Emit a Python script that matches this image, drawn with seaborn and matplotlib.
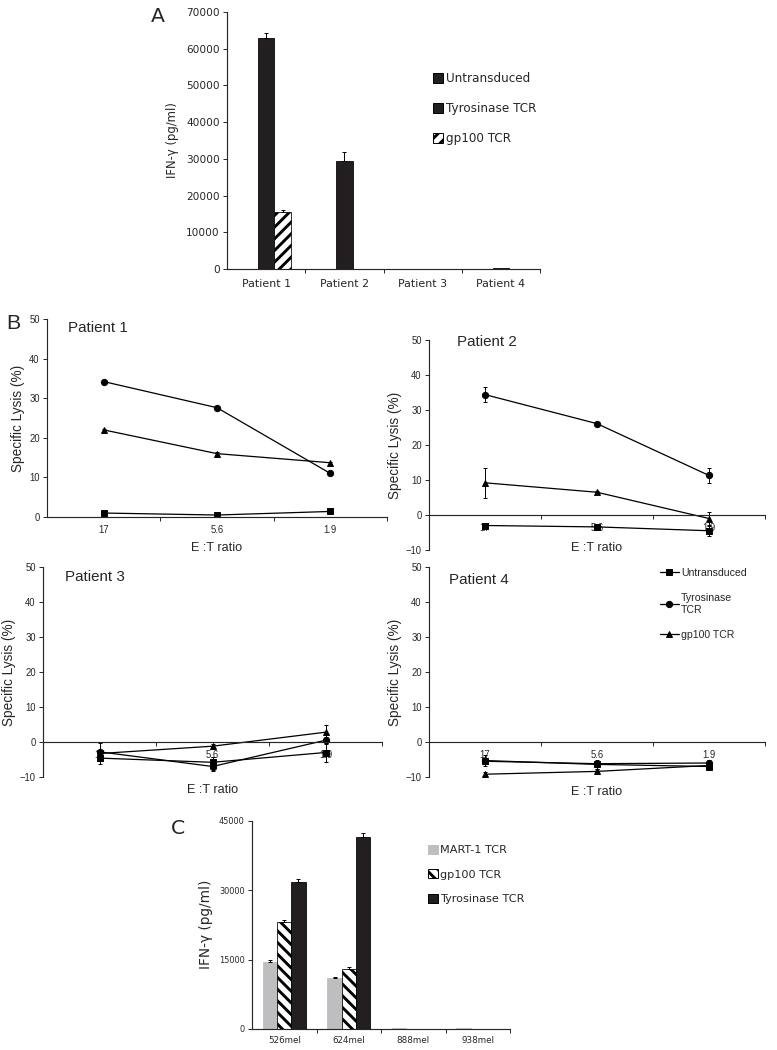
import numpy as np
import pandas as pd
import matplotlib
matplotlib.use('Agg')
import matplotlib.pyplot as plt
import seaborn as sns
from matplotlib.patches import Patch

sns.set_style('ticks')
plt.rcParams['font.family'] = ['DejaVu Sans']
plt.rcParams['hatch.linewidth'] = 3.0
plt.rcParams['axes.linewidth'] = 1.2

W, H, DPI = 777, 1050, 70
BLACK = '#231f20'
GRAY = '#bcbec0'

# ---- panel A data: IFN-gamma per patient ----
patients = ['Patient 1', 'Patient 2', 'Patient 3', 'Patient 4']
groups_a = ['Untransduced', 'Tyrosinase TCR', 'gp100 TCR']
ifn_untrans = [0, 0, 0, 0]
ifn_tyr = [63000, 29500, 100, 250]
ifn_gp100 = [15500, 0, 120, 40]
err_untrans = [0, 0, 0, 0]
err_tyr = [1300, 2300, 0, 0]
err_gp100 = [700, 0, 0, 0]

# ---- panel B data: specific lysis at E:T ratios ----
ratios = ['17', '5.6', '1.9']
groups_b = ['Untransduced', 'Tyrosinase TCR', 'gp100 TCR']
p1_untrans = [1.0, 0.5, 1.4]
p1_tyr = [34.2, 27.6, 11.0]
p1_gp100 = [22.0, 16.0, 13.7]
p1_err = [[0.2, 0.2, 0.3], [0.3, 0.3, 0.3], [0.3, 0.3, 0.3]]
p2_untrans = [-3.0, -3.4, -4.5]
p2_tyr = [34.4, 26.1, 11.3]
p2_gp100 = [9.2, 6.5, -1.0]
p2_err = [[0.5, 0.5, 1.5], [2.2, 0.4, 2.1], [4.2, 0.5, 1.9]]
p3_untrans = [-4.6, -5.8, -3.0]
p3_tyr = [-2.8, -7.0, 0.5]
p3_gp100 = [-3.3, -1.2, 2.8]
p3_err = [[1.7, 1.5, 2.6], [2.5, 1.2, 1.0], [0.5, 0.5, 2.2]]
p4_untrans = [-5.3, -6.4, -7.0]
p4_tyr = [-5.5, -6.2, -6.0]
p4_gp100 = [-9.2, -8.4, -6.7]
p4_err = [[1.5, 1.2, 0.8], [0.5, 0.5, 0.8], [0.5, 0.8, 0.5]]

# ---- panel C data: IFN-gamma per melanoma line ----
cells = ['526mel', '624mel', '888mel', '938mel']
groups_c = ['MART-1 TCR', 'gp100 TCR', 'Tyrosinase TCR']
c_mart1 = [14500, 10900, 150, 120]
c_gp100 = [23200, 13000, 0, 0]
c_tyr = [31800, 41500, 0, 0]
c_err = [[300, 300, 0, 0], [300, 300, 0, 0], [500, 700, 0, 0]]


def rect(x0, y_top, x1, y_bot):
    return [x0 / W, 1 - y_bot / H, (x1 - x0) / W, (y_bot - y_top) / H]


def long_df(cats, groups, series, catcol, valcol):
    return pd.DataFrame({catcol: cats * len(groups),
                         'group': np.repeat(groups, len(cats)),
                         valcol: np.concatenate(series)})


def bar_errors(ax, errs):
    for cont, err in zip(ax.containers, errs):
        for patch, e in zip(cont.patches, err):
            if e > 0:
                x = patch.get_x() + patch.get_width() / 2
                ax.errorbar(x, patch.get_height(), yerr=[[0], [e]], fmt='none',
                            ecolor='black', elinewidth=1, capsize=2.5, capthick=1)


def category_ticks(ax, n, pad, size):
    ax.set_xlim(-0.5, n - 0.5)
    ax.set_xticks(np.arange(n) + 0.5, minor=True)
    ax.tick_params(axis='x', which='major', length=0, pad=pad, labelsize=size)
    ax.tick_params(axis='x', which='minor', length=4, width=1, direction='out')
    ax.tick_params(axis='y', length=4, width=1, direction='out')


fig = plt.figure(figsize=(W / DPI, H / DPI), dpi=DPI)

# ================= Panel A =================
axA = fig.add_axes(rect(227, 12, 540, 269))
dfA = long_df(patients, groups_a, [ifn_untrans, ifn_tyr, ifn_gp100], 'patient', 'ifn')
sns.barplot(data=dfA, x='patient', y='ifn', hue='group', order=patients, hue_order=groups_a,
            palette={'Untransduced': BLACK, 'Tyrosinase TCR': BLACK, 'gp100 TCR': 'white'},
            saturation=1, width=0.64, edgecolor='black', linewidth=0.8,
            errorbar=None, legend=False, ax=axA)
for p in axA.containers[2].patches:
    p.set_hatch('//')
bar_errors(axA, [err_untrans, err_tyr, err_gp100])
axA.set_ylim(0, 70000)
axA.set_yticks(np.arange(0, 70001, 10000))
category_ticks(axA, 4, 10, 11.3)
axA.tick_params(axis='y', labelsize=10.8)
axA.set_xlabel('')
axA.set_ylabel('IFN-γ (pg/ml)', fontsize=12, labelpad=7)
sns.despine(ax=axA)
fig.legend(handles=[Patch(facecolor=BLACK, edgecolor='black'),
                    Patch(facecolor=BLACK, edgecolor='black'),
                    Patch(facecolor='white', edgecolor='black', hatch='//')],
           labels=groups_a, loc='upper left', bbox_to_anchor=(433 / W, 1 - 72 / H),
           frameon=False, fontsize=12.3, handlelength=0.85, handleheight=0.85,
           handletextpad=0.2, labelspacing=1.42, borderpad=0, borderaxespad=0)
fig.text(158 / W, 1 - 16 / H, 'A', fontsize=21, ha='center', va='center')

# ================= Panel B =================
pal_b = {g: 'black' for g in groups_b}
b_panels = [
    ('Patient 1', rect(47, 319, 387, 517), 0, [p1_untrans, p1_tyr, p1_gp100], p1_err, (68, 328), -0.125),
    ('Patient 2', rect(429, 340, 765, 550), -10, [p2_untrans, p2_tyr, p2_gp100], p2_err, (457, 342), 0.04),
    ('Patient 3', rect(43, 567, 382, 777), -10, [p3_untrans, p3_tyr, p3_gp100], p3_err, (65, 577), -0.035),
    ('Patient 4', rect(429, 567, 765, 777), -10, [p4_untrans, p4_tyr, p4_gp100], p4_err, (449, 580), -0.045),
]
b_axes = []
for i, (title, r, ymin, series, errs, tpos, xl_y) in enumerate(b_panels):
    ax = fig.add_axes(r)
    df = long_df(ratios, groups_b, series, 'ratio', 'lysis')
    sns.pointplot(data=df, x='ratio', y='lysis', hue='group', order=ratios, hue_order=groups_b,
                  palette=pal_b, markers=['s', 'o', '^'], linestyles='-', errorbar=None,
                  markersize=6.5, linewidth=1.3, legend=(i == 3), ax=ax)
    for vals, err in zip(series, errs):
        ax.errorbar(np.arange(len(ratios)), vals, yerr=err, fmt='none', ecolor='black',
                    elinewidth=1, capsize=2.5, capthick=1)
    ax.set_ylim(ymin, 50)
    ax.set_yticks(np.arange(ymin, 51, 10))
    sns.despine(ax=ax)
    if ymin < 0:
        ax.spines['bottom'].set_position(('data', 0))
    category_ticks(ax, 3, 8, 9.8)
    ax.tick_params(axis='y', labelsize=9.8)
    for lab in ax.get_xticklabels() + ax.get_yticklabels():
        lab.set_family('Liberation Sans')
    ax.set_xlabel('E :T ratio', fontsize=13, family='Liberation Sans')
    ax.xaxis.set_label_coords(0.5, xl_y)
    ax.set_ylabel('Specific Lysis (%)', fontsize=14, family='Liberation Sans', labelpad=4)
    fig.text(tpos[0] / W, 1 - tpos[1] / H, title, fontsize=15.5, family='Liberation Sans',
             ha='left', va='center')
    b_axes.append(ax)

handles, _ = b_axes[3].get_legend_handles_labels()
b_axes[3].get_legend().remove()
fig.legend(handles=handles, labels=['Untransduced', 'Tyrosinase\nTCR', 'gp100 TCR'],
           loc='upper left', bbox_to_anchor=(660 / W, 1 - 568 / H), frameon=False,
           prop={'family': 'Liberation Sans', 'size': 10.8}, handlelength=1.8,
           handletextpad=0.2, labelspacing=1.45, borderpad=0, borderaxespad=0)
fig.text(13 / W, 1 - 323 / H, 'B', fontsize=22, family='Liberation Sans', ha='center', va='center')

# ================= Panel C =================
axC = fig.add_axes(rect(252, 820.5, 510, 1029))
dfC = long_df(cells, groups_c, [c_mart1, c_gp100, c_tyr], 'cell', 'ifn')
sns.barplot(data=dfC, x='cell', y='ifn', hue='group', order=cells, hue_order=groups_c,
            palette={'MART-1 TCR': GRAY, 'gp100 TCR': 'white', 'Tyrosinase TCR': BLACK},
            saturation=1, width=0.66, edgecolor='black', linewidth=0.8,
            errorbar=None, legend=False, ax=axC)
for p in axC.containers[0].patches:
    p.set_edgecolor(GRAY)
for p in axC.containers[1].patches:
    p.set_hatch('\\\\')
bar_errors(axC, c_err)
axC.set_ylim(0, 45000)
axC.set_yticks([0, 15000, 30000, 45000])
category_ticks(axC, 4, 7, 9)
axC.tick_params(axis='y', labelsize=8.3)
axC.set_xlabel('')
axC.set_ylabel('IFN-γ (pg/ml)', fontsize=14, labelpad=6)
sns.despine(ax=axC)
fig.legend(handles=[Patch(facecolor=GRAY, edgecolor=GRAY),
                    Patch(facecolor='white', edgecolor='black', hatch='\\\\'),
                    Patch(facecolor=BLACK, edgecolor='black')],
           labels=groups_c, loc='upper left', bbox_to_anchor=(428 / W, 1 - 845 / H),
           frameon=False, fontsize=11.6, handlelength=0.85, handleheight=0.85,
           handletextpad=0.2, labelspacing=1.25, borderpad=0, borderaxespad=0)
fig.text(178 / W, 1 - 828 / H, 'C', fontsize=21, ha='center', va='center')

fig.savefig('out.png', dpi=DPI)
